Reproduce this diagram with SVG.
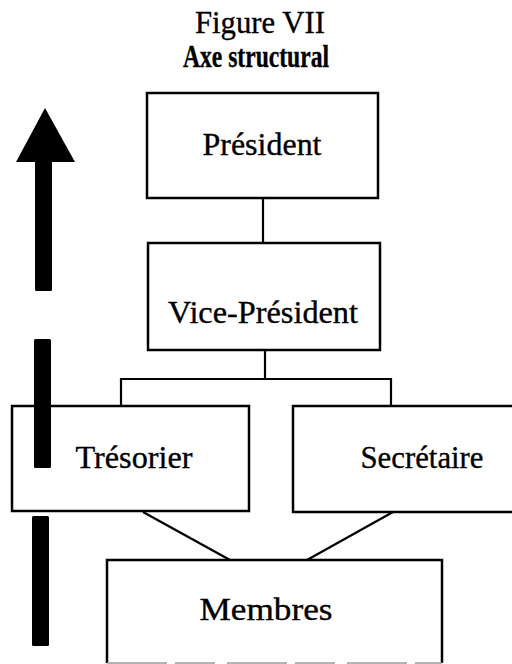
<svg xmlns="http://www.w3.org/2000/svg" width="512" height="664" viewBox="0 0 512 664">
  <style>
    .box { fill: #fff; stroke: #000; stroke-width: 2.5; }
    .lbl { font-family: "Liberation Serif", "Times New Roman", serif; font-size: 31px; fill: #000; stroke: #000; stroke-width: 0.35; text-anchor: middle; }
    .wire { fill: none; stroke: #000; stroke-width: 2.2; }
    .bar { fill: #000; }
  </style>
  <rect width="512" height="664" fill="#fff"/>

  <!-- headings -->
  <text x="260" y="33" class="lbl" font-size="28" textLength="130" lengthAdjust="spacingAndGlyphs">Figure VII</text>
  <text x="256" y="67" class="lbl" font-weight="bold" font-size="24" textLength="146" lengthAdjust="spacingAndGlyphs">Axe structural</text>

  <!-- connectors -->
  <g id="connectors">
    <line class="wire" x1="263" y1="198" x2="263" y2="243"/>
    <line class="wire" x1="265" y1="350" x2="265" y2="379"/>
    <polyline class="wire" points="121,406 121,379 391,379 391,406"/>
    <line class="wire" x1="143" y1="512" x2="230" y2="560"/>
    <line class="wire" x1="393" y1="512" x2="307" y2="560"/>
  </g>

  <g id="president">
    <rect class="box" x="147" y="93" width="231" height="105"/>
    <text class="lbl" x="262" y="155" textLength="119" lengthAdjust="spacingAndGlyphs">Président</text>
  </g>

  <g id="vice-president">
    <rect class="box" x="148" y="243" width="232" height="107"/>
    <text class="lbl" x="263" y="323" textLength="190" lengthAdjust="spacingAndGlyphs">Vice-Président</text>
  </g>

  <g id="tresorier">
    <rect class="box" x="12" y="406" width="237" height="105"/>
    <text class="lbl" x="134" y="468" textLength="117" lengthAdjust="spacingAndGlyphs">Trésorier</text>
  </g>

  <g id="secretaire">
    <rect class="box" x="293" y="406" width="222" height="106"/>
    <text class="lbl" x="422" y="468" textLength="123" lengthAdjust="spacingAndGlyphs">Secrétaire</text>
  </g>

  <g id="membres">
    <path d="M107,663 V560 H442 V663" fill="#fff" stroke="#000" stroke-width="2.5"/>
    <line x1="107" y1="663" x2="442" y2="663" stroke="#999" stroke-width="1.5" stroke-dasharray="60,8,40,12"/>
    <text class="lbl" x="266" y="620" textLength="133" lengthAdjust="spacingAndGlyphs">Membres</text>
  </g>

  <!-- upward structural axis arrow -->
  <g id="axis-arrow">
    <polygon class="bar" points="45,108 75,162 16,162"/>
    <rect class="bar" x="35" y="160" width="17" height="131" rx="1.5"/>
    <rect class="bar" x="34" y="339" width="17" height="129" rx="1.5"/>
    <rect class="bar" x="32" y="516" width="17" height="130" rx="1.5"/>
  </g>
</svg>
